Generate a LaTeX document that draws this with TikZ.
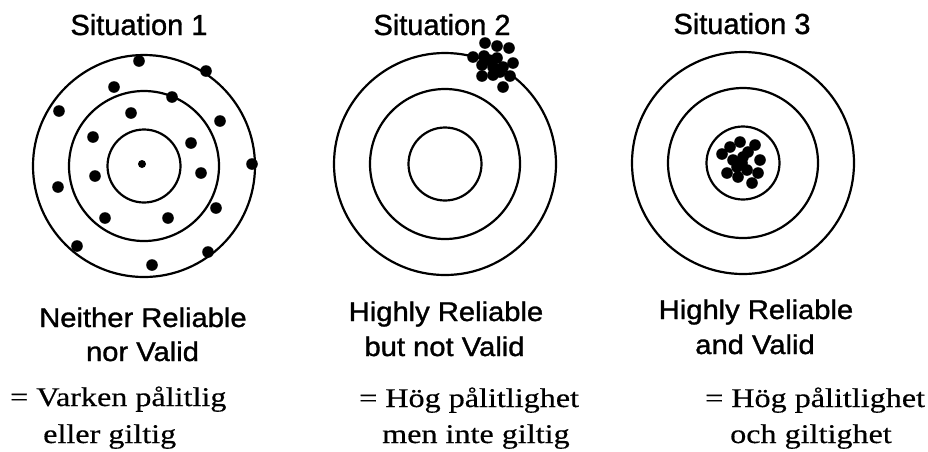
\documentclass[tikz,border=0pt]{standalone}
\usepackage{fontspec}
\usepackage{graphicx}
\setmainfont{Liberation Serif}[FakeBold=0.4]
\newfontfamily\sansf{Liberation Sans}[FakeBold=1.2]
\tikzset{
  ring/.style={line width=2.2pt},
  hit/.style={fill=black},
  titletxt/.style={inner sep=0pt, anchor=base, font=\sansf\fontsize{29}{30}\selectfont},
  labtxt/.style={inner sep=0pt, anchor=base, font=\sansf\fontsize{27}{28}\selectfont},
  svtxt/.style={inner sep=0pt, anchor=base west, font=\fontsize{27}{28}\selectfont},
}
\newcommand{\wideA}[1]{\scalebox{1.08}[1]{#1}}
\newcommand{\wideB}[1]{\scalebox{1.19}[1]{#1}}
\begin{document}
\begin{tikzpicture}[x=1pt,y=-1pt]
\useasboundingbox[fill=white] (0,0) rectangle (928,451);
% targets
\foreach \cx/\cy/\n in {144/166/a,445/164/b,743/163/c}{
  \draw[ring] (\cx,\cy) circle[radius=111];
  \draw[ring] (\cx,\cy) circle[radius=75];
  \draw[ring] (\cx,\cy) circle[radius=36.5];
}
% situation 1 hits
\foreach \x/\y in {139/61,206/71,114/87,172/97,59/111,131/113,220/121,93/137,191/143,252/164,95/176,201/173,58/187,216/208,105/218,168/218,77/246,208/252,152/265}{
  \fill[hit] (\x,\y) circle[radius=5.8];
}
\fill[hit] (142,164) circle[radius=4];
% situation 2 hits
\foreach \x/\y in {485/43,497/46,509/48,473/57,484/56,497/58,513/63,482/65,493/67,503/67,482/76,493/75,510/76,503/87,500/72,489/60}{
  \fill[hit] (\x,\y) circle[radius=5.8];
}
% situation 3 hits
\foreach \x/\y in {722/154,730/147,740/142,755/145,760/160,758/173,752/183,727/173,738/177,747/170,733/160,743/157,737/167,748/152,742/163}{
  \fill[hit] (\x,\y) circle[radius=5.8];
}
% titles
\node[titletxt] (t1) at (139,35) {Situation 1};
\node[titletxt] (t2) at (442,35) {Situation 2};
\node[titletxt] (t3) at (742,34) {Situation 3};
% english labels
\node[labtxt] (e1a) at (143,327) {\wideA{Neither Reliable}};
\node[labtxt] (e1b) at (142.5,361) {\wideA{nor Valid}};
\node[labtxt] (e2a) at (446,321) {\wideA{Highly Reliable}};
\node[labtxt] (e2b) at (444.5,356) {\wideA{but not Valid}};
\node[labtxt] (e3a) at (756,319) {\wideA{Highly Reliable}};
\node[labtxt] (e3b) at (755,354) {\wideA{and Valid}};
% swedish labels
\node[svtxt] (s1a) at (10,406) {\wideB{= Varken pålitlig}};
\node[svtxt] (s1b) at (43,443) {\wideB{eller giltig}};
\node[svtxt] (s2a) at (359,407) {\wideB{= Hög pålitlighet}};
\node[svtxt] (s2b) at (382,443) {\wideB{men inte giltig}};
\node[svtxt] (s3a) at (705,407) {\wideB{= Hög pålitlighet}};
\node[svtxt] (s3b) at (730,443) {\wideB{och giltighet}};
\end{tikzpicture}
\end{document}
